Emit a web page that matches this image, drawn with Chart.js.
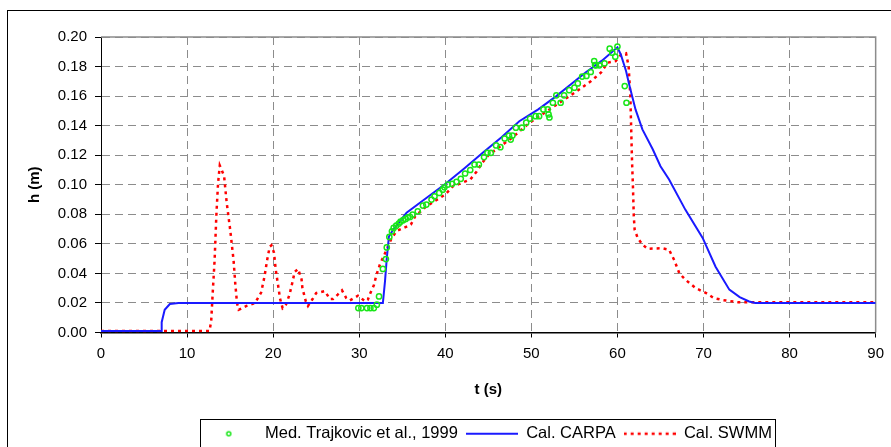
<!DOCTYPE html>
<html>
<head>
<meta charset="utf-8">
<script src="https://cdn.jsdelivr.net/npm/chart.js@4.4.1/dist/chart.umd.min.js"></script>
<style>
    html, body { margin: 0; padding: 0; overflow: hidden; background: #fff; }
    #wrapper { width: 891px; height: 470px; }
</style>
</head>
<body>
<div id="wrapper"><canvas id="chart" width="891" height="470"></canvas></div>
<script>
// measured depths (Trajkovic et al., 1999)
const measT = [29.9, 30.25, 30.9, 31.3, 31.7, 32.05, 32.3, 32.75, 33.1, 33.2, 33.5, 33.8, 34.0, 34.3, 34.6, 34.8,
    35.1, 35.4, 35.65, 35.9, 36.2, 36.8, 37.4, 37.8, 38.4, 38.75, 39.3, 39.7, 39.9, 40.3, 40.8, 41.3, 41.8, 42.3,
    42.9, 43.4, 43.9, 44.5, 44.9, 45.3, 45.9, 46.4, 46.9, 47.4, 47.6, 47.8, 48.2, 48.9, 49.4, 49.85, 50.5, 50.9,
    51.4, 51.9, 52.0, 52.1, 52.5, 52.9, 53.4, 53.8, 54.4, 55.0, 55.4, 55.9, 56.4, 56.9, 57.3, 57.4, 57.5, 57.9,
    58.5, 59.1, 59.4, 59.75, 60.0, 60.85, 61.05];
const measH = [0.0165, 0.0165, 0.0165, 0.0165, 0.0165, 0.0188, 0.0244, 0.043, 0.0497, 0.0576, 0.0647, 0.0685,
    0.0708, 0.0723, 0.0737, 0.075, 0.076, 0.0769, 0.078, 0.0782, 0.0798, 0.082, 0.0859, 0.0866, 0.090, 0.0922,
    0.0945, 0.0967, 0.0983, 0.1001, 0.1006, 0.102, 0.104, 0.1076, 0.110, 0.1137, 0.1137, 0.1187, 0.1216, 0.1216,
    0.1266, 0.1254, 0.1313, 0.1333, 0.1306, 0.1333, 0.1386, 0.1386, 0.142, 0.1447, 0.1464, 0.1464, 0.151, 0.151,
    0.1476, 0.1455, 0.1555, 0.1605, 0.1555, 0.1605, 0.164, 0.1657, 0.1686, 0.1732, 0.1736, 0.1763, 0.1837, 0.181,
    0.1808, 0.1808, 0.1822, 0.1921, 0.1894, 0.1867, 0.1935, 0.1668, 0.1555];

// CARPA model
const carpaT = [0, 7.0, 7.05, 7.4, 8.0, 9.0, 32.75, 33.0, 33.2, 33.45, 34.0, 35.5, 37.8, 40.1, 42.2, 44.35, 46.5,
    48.6, 50.8, 52.9, 54.6, 56.3, 58.2, 60.0, 60.4, 61.0, 61.4, 62.1, 62.9, 64.1, 65.0, 66.0, 67.9, 69.9, 71.4,
    73.0, 74.2, 75.3, 76.0, 90];
const carpaH = [0.001, 0.001, 0.007, 0.0154, 0.0193, 0.020, 0.020, 0.035, 0.050, 0.065, 0.070, 0.081, 0.091,
    0.101, 0.111, 0.1216, 0.132, 0.143, 0.151, 0.160, 0.168, 0.176, 0.184, 0.193, 0.188, 0.177, 0.167, 0.151,
    0.1375, 0.124, 0.1125, 0.1035, 0.083, 0.064, 0.0445, 0.029, 0.024, 0.021, 0.020, 0.020];

// SWMM model
const swmmT = [0, 12.6, 12.8, 13.0, 13.2, 13.4, 13.6, 13.8, 14.3, 14.6, 15.0, 15.4, 15.6, 15.8, 16.0, 16.9, 17.9,
    18.6, 19.0, 19.3, 19.6, 19.8, 20.1, 20.3, 20.6, 20.8, 21.1, 21.5, 21.9, 22.2, 22.5, 22.9, 23.3, 23.4, 23.8,
    24.05, 24.6, 25.0, 26.0, 26.6, 26.95, 27.5, 28.0, 28.5, 28.9, 29.85, 30.0, 30.7, 31.0, 31.3, 31.7, 32.0, 32.4,
    33.1, 33.7, 34.3, 36.0, 36.5, 37.8, 40.0, 40.9, 42.9, 43.65, 44.3, 45.1, 47.8, 49.8, 53.0, 55.2, 56.9, 58.1,
    58.85, 59.8, 60.4, 61.0, 61.3, 61.5, 61.6, 61.7, 61.8, 61.9, 62.0, 62.35, 62.9, 63.5, 65.2, 66.0, 66.6, 67.2,
    67.9, 69.1, 70.3, 71.2, 72.2, 74.0, 90];
const swmmH = [0.001, 0.001, 0.0075, 0.029, 0.049, 0.079, 0.101, 0.113, 0.106, 0.088, 0.070, 0.049, 0.033, 0.020,
    0.0154, 0.018, 0.020, 0.027, 0.038, 0.049, 0.058, 0.059, 0.054, 0.0425, 0.031, 0.023, 0.0165, 0.019, 0.0256,
    0.033, 0.041, 0.043, 0.036, 0.030, 0.021, 0.018, 0.0228, 0.0267, 0.028, 0.0226, 0.0226, 0.0256, 0.0285, 0.0233,
    0.0217, 0.0249, 0.0244, 0.021, 0.0222, 0.0267, 0.032, 0.039, 0.046, 0.055, 0.063, 0.0685, 0.073, 0.0786,
    0.0854, 0.0934, 0.099, 0.1035, 0.109, 0.115, 0.1205, 0.132, 0.142, 0.1545, 0.163, 0.170, 0.176, 0.1826,
    0.1837, 0.188, 0.189, 0.180, 0.160, 0.137, 0.115, 0.099, 0.0786, 0.0696, 0.064, 0.0595, 0.0567, 0.057, 0.056,
    0.049, 0.040, 0.0357, 0.030, 0.0267, 0.0233, 0.022, 0.0205, 0.0205];

const seriesLabels = ['Med. Trajkovic et al., 1999', 'Cal. CARPA', 'Cal. SWMM'];
const yTicks = [0, 0.02, 0.04, 0.06, 0.08, 0.10, 0.12, 0.14, 0.16, 0.18, 0.20];
const xTicks = [0, 10, 20, 30, 40, 50, 60, 70, 80, 90];

const GREEN = '#19e619';
const BLUE = '#1a1aff';
const RED = '#ff0000';
const FONT = 'Liberation Sans, Arial, sans-serif';

function zip(ts, hs) {
    return ts.map((t, i) => ({ x: t, y: hs[i] }));
}

// small pictures used as legend markers
function legendSample(kind) {
    const c = document.createElement('canvas');
    c.width = 52;
    c.height = 10;
    const ctx = c.getContext('2d');
    if (kind === 0) {
        ctx.strokeStyle = GREEN;
        ctx.lineWidth = 1.5;
        ctx.beginPath();
        ctx.arc(24, 5, 2, 0, Math.PI * 2);
        ctx.stroke();
    } else {
        ctx.strokeStyle = kind === 1 ? BLUE : RED;
        ctx.lineWidth = kind === 1 ? 2 : 2.5;
        ctx.setLineDash(kind === 1 ? [] : [3, 4]);
        ctx.beginPath();
        ctx.moveTo(0, 5);
        ctx.lineTo(52, 5);
        ctx.stroke();
    }
    return c;
}
const samples = [legendSample(0), legendSample(1), legendSample(2)];

const frames = {
    id: 'frames',
    beforeDatasetsDraw(chart) {
        const { ctx, chartArea: a } = chart;
        ctx.save();
        ctx.strokeStyle = '#8c8c8c';
        ctx.lineWidth = 1.5;
        ctx.beginPath();
        ctx.moveTo(a.left, a.top);
        ctx.lineTo(a.right, a.top);
        ctx.lineTo(a.right, a.bottom);
        ctx.stroke();
        ctx.restore();
    },
    afterDraw(chart) {
        const ctx = chart.ctx;
        ctx.save();
        ctx.strokeStyle = '#000';
        ctx.lineWidth = 1;
        ctx.strokeRect(7.5, 10.5, 950, 500);
        const boxes = chart.legend.legendHitBoxes;
        if (boxes && boxes.length) {
            const first = boxes[0];
            const last = boxes[boxes.length - 1];
            const left = Math.round(first.left) - 5 + 0.5;
            const right = Math.round(last.left + last.width) + 3 + 0.5;
            const top = Math.round(first.top) - 7 + 0.5;
            ctx.strokeRect(left, top, right - left, 100);
        }
        ctx.restore();
    }
};

const config = {
    type: 'line',
    data: {
        datasets: [{
            label: seriesLabels[0],
            data: zip(measT, measH),
            showLine: false,
            pointStyle: 'circle',
            pointRadius: 2.6,
            pointBorderWidth: 1.5,
            pointBorderColor: GREEN,
            pointBackgroundColor: 'rgba(0,0,0,0)',
            borderColor: GREEN
        }, {
            label: seriesLabels[1],
            data: zip(carpaT, carpaH),
            borderColor: BLUE,
            borderWidth: 2,
            pointRadius: 0,
            tension: 0
        }, {
            label: seriesLabels[2],
            data: zip(swmmT, swmmH),
            borderColor: RED,
            borderWidth: 2.5,
            borderDash: [3, 4],
            pointRadius: 0,
            tension: 0
        }]
    },
    options: {
        responsive: false,
        animation: false,
        layout: { padding: { top: 37, right: 14, left: 0, bottom: 18 } },
        plugins: {
            tooltip: { enabled: false },
            legend: {
                position: 'bottom',
                fullSize: false,
                labels: {
                    color: '#000',
                    font: { family: FONT, size: 16.5 },
                    padding: 8,
                    usePointStyle: true,
                    pointStyleWidth: 52,
                    generateLabels: chart => chart.data.datasets.map((ds, i) => ({
                        text: ds.label,
                        pointStyle: samples[i],
                        fillStyle: 'rgba(0,0,0,0)',
                        strokeStyle: 'rgba(0,0,0,0)',
                        lineWidth: 0,
                        hidden: false,
                        datasetIndex: i,
                        fontColor: '#000'
                    }))
                }
            }
        },
        scales: {
            x: {
                type: 'linear',
                min: 0,
                max: 90,
                afterFit: scale => { scale.height = 85; },
                afterBuildTicks: scale => { scale.ticks = xTicks.map(v => ({ value: v })); },
                ticks: { color: '#000', font: { family: FONT, size: 15 }, padding: 7, maxRotation: 0 },
                grid: { color: '#8c8c8c', lineWidth: 1, tickColor: '#000', tickLength: 5 },
                border: { color: '#000', width: 1.5, dash: [8, 5] },
                title: { display: true, text: 't (s)', color: '#000', font: { family: FONT, size: 15, weight: 'bold' }, padding: { bottom: 19 } }
            },
            y: {
                min: 0,
                max: 0.2,
                afterFit: scale => { scale.width = 101; },
                afterBuildTicks: scale => { scale.ticks = yTicks.map(v => ({ value: v })); },
                ticks: { color: '#000', font: { family: FONT, size: 15 }, padding: 8, callback: v => v.toFixed(2) },
                grid: { color: '#8c8c8c', lineWidth: 1, tickColor: '#000', tickLength: 6 },
                border: { color: '#000', width: 1, dash: [8, 5] },
                title: { display: true, text: 'h (m)', color: '#000', font: { family: FONT, size: 15, weight: 'bold' }, padding: { top: 26 } }
            }
        }
    },
    plugins: [frames]
};

new Chart(document.getElementById('chart'), config);
</script>
</body>
</html>
